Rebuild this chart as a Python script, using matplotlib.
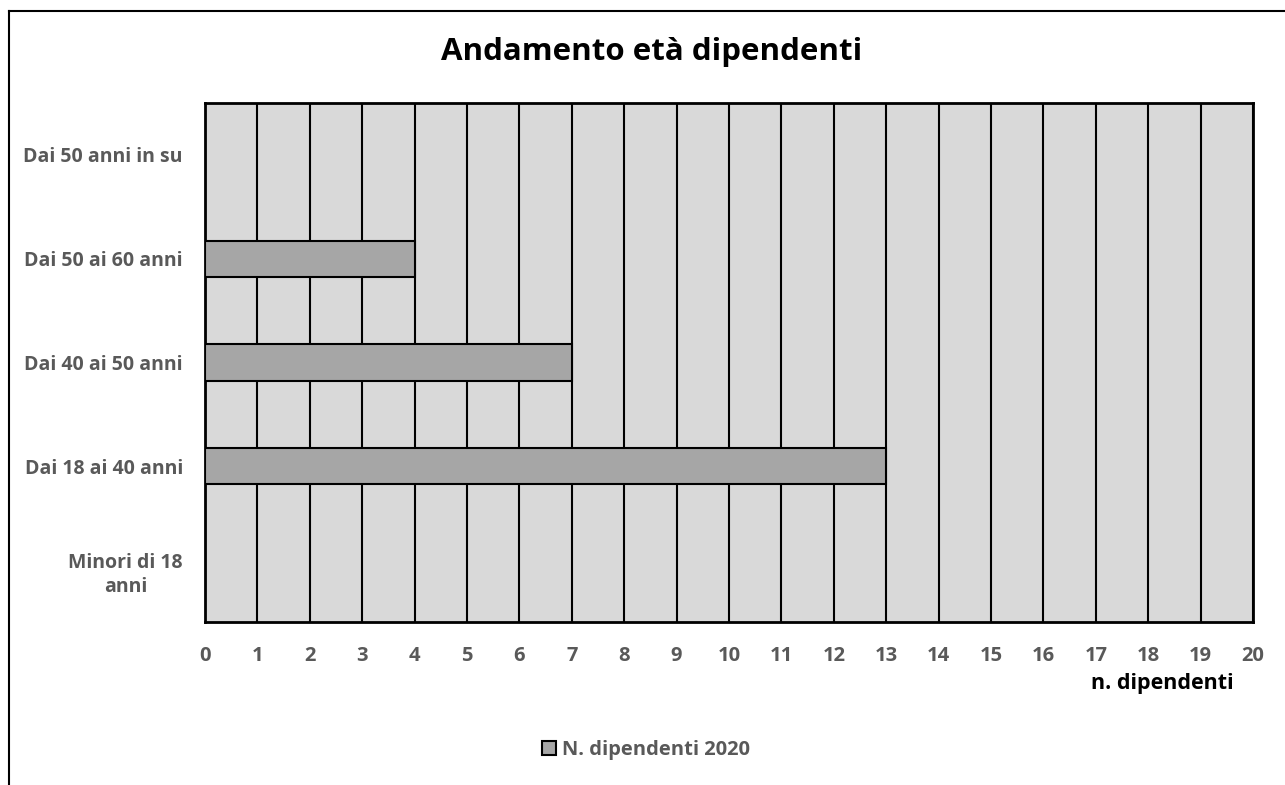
import matplotlib
matplotlib.use("Agg")
from matplotlib import pyplot as plt
from matplotlib.lines import Line2D

categories = ["Minori di 18\nanni", "Dai 18 ai 40 anni", "Dai 40 ai 50 anni",
              "Dai 50 ai 60 anni", "Dai 50 anni in su"]
dipendenti_2020 = [0, 13, 7, 4, 0]
x_ticks = list(range(0, 21))

plt.rcParams['font.family'] = ['Open Sans', 'DejaVu Sans']
plt.rcParams['font.weight'] = 'bold'

fig = plt.figure(figsize=(12.85, 7.85), dpi=100)
ax = fig.add_axes([205/1285, 1-622/785, (1253-205)/1285, (622-103)/785])
ax.set_facecolor('#d9d9d9')

ax.barh(range(len(categories)), dipendenti_2020, height=0.35,
        color='#a6a6a6', edgecolor='black', linewidth=1.5,
        label='N. dipendenti 2020', zorder=3)

ax.set_xlim(0, 20)
ax.set_ylim(-0.5, len(categories) - 0.5)
ax.set_xticks(x_ticks)
ax.set_yticks(range(len(categories)))
ax.set_yticklabels(categories, ha='right', multialignment='center', linespacing=1.3)
ax.set_axisbelow(True)
ax.grid(axis='x', color='black', linewidth=1.5)
ax.tick_params(length=0, labelsize=14, labelcolor='#595959')
ax.tick_params(axis='x', pad=17, labelsize=14.5)
ax.tick_params(axis='y', pad=16)
for lab in ax.get_xticklabels() + ax.get_yticklabels():
    lab.set_fontweight('bold')
for sp in ax.spines.values():
    sp.set_linewidth(2)
    sp.set_color('black')

fig.text(652/1285, 1-52/785, "Andamento età dipendenti", ha='center', va='center',
         fontsize=22.5, fontweight='bold', color='black')
fig.text(1234/1285, 1-684/785, "n. dipendenti", ha='right', va='center',
         fontsize=15.5, fontweight='bold', color='black')

fig.legend(loc='center', bbox_to_anchor=(646/1285, 1-750/785), frameon=False,
           handlelength=0.7, handleheight=0.7, handletextpad=0.3,
           prop={'weight': 'bold', 'size': 14.5}, labelcolor='#595959')

# outer chart border (top and left only visible)
fig.add_artist(Line2D([9/1285, 9/1285], [0, 1-11/785], color='black', linewidth=1.5))
fig.add_artist(Line2D([9/1285, 1], [1-11/785, 1-11/785], color='black', linewidth=1.5))

fig.savefig('out.png', dpi=100)
